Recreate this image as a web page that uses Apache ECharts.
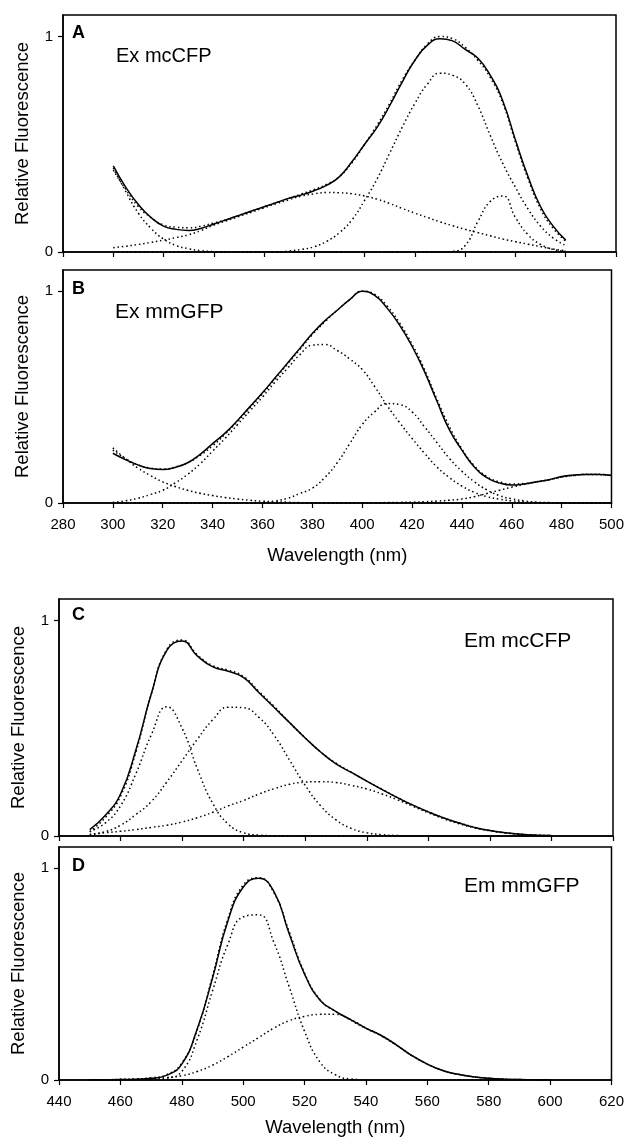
<!DOCTYPE html>
<html><head><meta charset="utf-8">
<script src="https://cdn.jsdelivr.net/npm/echarts@6/dist/echarts.min.js"></script>
<style>html,body{margin:0;padding:0;background:#fff}#c{width:627px;height:1138px}</style>
</head><body><div id="c"></div>
<script>
// ---------- Panel A: Ex mcCFP (300..480 nm, step 5) ----------
const xA = [300,305,310,315,320,325,330,335,340,345,350,355,360,365,370,375,380,385,390,395,400,405,410,415,420,425,430,435,440,445,450,455,460,465,470,475,480];
const fitA = [0.40,0.30,0.22,0.16,0.12,0.105,0.10,0.11,0.13,0.15,0.17,0.19,0.21,0.23,0.25,0.265,0.285,0.31,0.35,0.42,0.50,0.58,0.68,0.79,0.89,0.96,0.99,0.98,0.94,0.90,0.82,0.70,0.52,0.35,0.21,0.12,0.055];
const dataA = [0.38,0.29,0.21,0.16,0.125,0.115,0.112,0.12,0.135,0.15,0.17,0.19,0.21,0.23,0.25,0.27,0.29,0.315,0.35,0.415,0.50,0.59,0.69,0.80,0.89,0.965,1.0,0.99,0.95,0.89,0.81,0.69,0.51,0.34,0.20,0.11,0.05];
const decayA = [0.39,0.28,0.18,0.11,0.06,0.03,0.015,0.006,0.002,0,0,0,0,0,0,0,0,0,0,0,0,0,0,0,0,0,0,0,0,0,0,0,0,0,0,0,0];
const broadA = [0.02,0.027,0.035,0.045,0.055,0.067,0.08,0.10,0.125,0.145,0.165,0.185,0.205,0.225,0.243,0.26,0.27,0.276,0.275,0.27,0.26,0.245,0.225,0.202,0.18,0.16,0.14,0.122,0.105,0.09,0.075,0.06,0.048,0.036,0.025,0.014,0.005];
const mainA = [0,0,0,0,0,0,0,0,0,0,0,0,0,0,0.005,0.012,0.025,0.05,0.09,0.15,0.24,0.34,0.46,0.58,0.69,0.78,0.83,0.82,0.78,0.68,0.54,0.41,0.30,0.20,0.12,0.065,0.03];
const smallA = [0,0,0,0,0,0,0,0,0,0,0,0,0,0,0,0,0,0,0,0,0,0,0,0,0,0,0,0.003,0.03,0.14,0.235,0.26,0.16,0.08,0.035,0.012,0.003];

// ---------- Panel B: Ex mmGFP (300..500 nm, step 5) ----------
const xB = [300,305,310,315,320,325,330,335,340,345,350,355,360,365,370,375,380,385,390,395,400,405,410,415,420,425,430,435,440,445,450,455,460,465,470,475,480,485,490,495,500];
const fitB = [0.235,0.205,0.18,0.163,0.158,0.168,0.19,0.23,0.28,0.33,0.39,0.455,0.52,0.59,0.66,0.73,0.80,0.86,0.91,0.96,1.0,0.98,0.92,0.84,0.74,0.62,0.48,0.345,0.25,0.17,0.12,0.095,0.085,0.09,0.10,0.11,0.125,0.132,0.135,0.134,0.13];
const dataB = [0.25,0.21,0.18,0.165,0.16,0.17,0.19,0.225,0.27,0.325,0.385,0.45,0.515,0.585,0.655,0.725,0.795,0.855,0.91,0.96,1.0,0.985,0.93,0.85,0.75,0.63,0.49,0.36,0.255,0.175,0.125,0.10,0.09,0.092,0.10,0.11,0.123,0.13,0.136,0.136,0.128];
const decayB = [0.26,0.21,0.165,0.13,0.10,0.078,0.06,0.046,0.035,0.026,0.019,0.013,0.009,0.006,0.004,0.002,0.001,0,0,0,0,0,0,0,0,0,0,0,0,0,0,0,0,0,0,0,0,0,0,0,0];
const bigB = [0.003,0.01,0.022,0.04,0.06,0.095,0.135,0.185,0.245,0.305,0.37,0.435,0.50,0.57,0.635,0.70,0.745,0.748,0.72,0.68,0.63,0.55,0.46,0.38,0.305,0.235,0.17,0.12,0.08,0.05,0.03,0.018,0.01,0.005,0.002,0.001,0,0,0,0,0];
const midB = [0,0,0,0,0,0,0,0,0,0,0,0,0.003,0.01,0.022,0.045,0.07,0.12,0.19,0.28,0.37,0.43,0.47,0.465,0.43,0.36,0.285,0.21,0.15,0.10,0.062,0.035,0.02,0.01,0.004,0.002,0.001,0,0,0,0];
const tailB = [0,0,0,0,0,0,0,0,0,0,0,0,0,0,0,0,0,0,0,0,0.001,0.001,0.002,0.003,0.004,0.006,0.009,0.013,0.019,0.03,0.045,0.06,0.075,0.088,0.10,0.11,0.122,0.13,0.135,0.134,0.13];

// ---------- Panel C: Em mcCFP (450..600 nm, step 5) ----------
const xC = [450,455,460,465,470,475,480,485,490,495,500,505,510,515,520,525,530,535,540,545,550,555,560,565,570,575,580,585,590,595,600];
const fitC = [0.03,0.095,0.195,0.40,0.66,0.86,0.905,0.835,0.785,0.765,0.735,0.665,0.595,0.525,0.455,0.39,0.335,0.295,0.255,0.215,0.178,0.143,0.112,0.084,0.06,0.04,0.025,0.015,0.008,0.004,0.002];
const dataC = [0.02,0.085,0.185,0.39,0.66,0.865,0.91,0.84,0.79,0.77,0.74,0.67,0.60,0.525,0.455,0.39,0.338,0.295,0.255,0.217,0.178,0.143,0.112,0.084,0.061,0.041,0.025,0.015,0.008,0.004,0.002];
const comp1C = [0.02,0.06,0.14,0.29,0.47,0.60,0.50,0.31,0.15,0.055,0.015,0.004,0.001,0,0,0,0,0,0,0,0,0,0,0,0,0,0,0,0,0,0];
const comp2C = [0.005,0.02,0.05,0.10,0.16,0.25,0.35,0.45,0.54,0.598,0.595,0.55,0.465,0.35,0.235,0.14,0.075,0.035,0.015,0.006,0.002,0,0,0,0,0,0,0,0,0,0];
const broadC = [0.008,0.015,0.022,0.03,0.04,0.05,0.065,0.085,0.11,0.14,0.165,0.195,0.22,0.24,0.25,0.252,0.248,0.235,0.218,0.195,0.168,0.138,0.108,0.08,0.057,0.038,0.024,0.014,0.008,0.004,0.002];

// ---------- Panel D: Em mmGFP (450..600 nm, step 5) ----------
const xD = [450,455,460,465,470,475,480,485,490,495,500,505,510,515,520,525,530,535,540,545,550,555,560,565,570,575,580,585,590,595,600];
const fitD = [0,0.001,0.002,0.004,0.008,0.022,0.075,0.24,0.48,0.75,0.91,0.953,0.89,0.69,0.50,0.378,0.325,0.285,0.245,0.21,0.165,0.115,0.075,0.045,0.027,0.015,0.008,0.004,0.002,0.001,0];
const dataD = [0,0.001,0.002,0.004,0.01,0.025,0.08,0.235,0.49,0.76,0.92,0.955,0.885,0.70,0.505,0.38,0.325,0.283,0.243,0.208,0.163,0.115,0.075,0.045,0.027,0.015,0.008,0.004,0.002,0.001,0];
const comp1D = [0,0,0,0,0.002,0.008,0.04,0.19,0.42,0.64,0.77,0.78,0.65,0.44,0.23,0.085,0.025,0.005,0.001,0,0,0,0,0,0,0,0,0,0,0,0];
const broadD = [0,0.001,0.003,0.005,0.008,0.012,0.02,0.04,0.07,0.11,0.155,0.2,0.245,0.28,0.30,0.31,0.31,0.285,0.245,0.21,0.165,0.115,0.075,0.045,0.027,0.015,0.008,0.004,0.002,0.001,0];

// ---------- text ----------
const panelLetters = ['A','B','C','D'];
const sampleNames = ['Ex mcCFP','Ex mmGFP','Em mcCFP','Em mmGFP'];
const yName = 'Relative Fluorescence';
const xName = 'Wavelength (nm)';
const yTicks = [0, 1];

const FONT = 'Liberation Sans, Arial, Helvetica, sans-serif';
const zip = (xs, ys) => xs.map((x, i) => [x, ys[i]]);

const grids = [
  {left: 63, width: 553, top: 15, height: 237},
  {left: 63, width: 553, top: 270, height: 233},
  {left: 59, width: 554, top: 599, height: 237},
  {left: 59, width: 554, top: 847, height: 234}
];
const xRanges = [[280,500],[280,500],[440,620],[440,620]];
const showXLabels = [false, true, false, true];
const xNameGaps = [0, 43, 0, 38];

const chart = echarts.init(document.getElementById('c'), null, {renderer: 'canvas'});

const gridOpts = grids.map(g => Object.assign({show: true, borderColor: '#000', borderWidth: 1.5, backgroundColor: 'transparent', containLabel: false}, g));

const xAxes = grids.map((g, i) => ({
  type: 'value', gridIndex: i, min: xRanges[i][0], max: xRanges[i][1], interval: 20,
  axisLine: {show: true, onZero: false, lineStyle: {color: '#000', width: 1.5}},
  axisTick: {show: true, inside: false, length: 5, lineStyle: {color: '#000', width: 1.2}},
  axisLabel: {show: showXLabels[i], color: '#000', fontSize: 15, fontFamily: FONT, margin: 14},
  splitLine: {show: false},
  name: showXLabels[i] ? xName : '', nameLocation: 'middle', nameGap: xNameGaps[i],
  nameTextStyle: {color: '#000', fontSize: 18.5, fontFamily: FONT}
}));

const yAxes = grids.map((g, i) => ({
  type: 'value', gridIndex: i, min: 0, max: 1.1,
  axisLine: {show: true, onZero: false, lineStyle: {color: '#000', width: 1.5}},
  axisTick: {show: true, inside: false, length: 5, customValues: yTicks, lineStyle: {color: '#000', width: 1.2}},
  axisLabel: {show: true, color: '#000', fontSize: 15, fontFamily: FONT, margin: 10, customValues: yTicks,
    formatter: v => (v === 0 || v === 1) ? String(v) : ''},
  splitLine: {show: false},
  name: yName, nameLocation: 'middle', nameGap: 31,
  nameTextStyle: {color: '#000', fontSize: 18.5, fontFamily: FONT}
}));

const solid = (i, xs, ys) => ({type: 'line', xAxisIndex: i, yAxisIndex: i, data: zip(xs, ys), showSymbol: false, smooth: 0.5,
  lineStyle: {color: '#000', width: 1.5, type: 'solid'}, z: 3, silent: true});
const dotted = (i, xs, ys) => ({type: 'line', xAxisIndex: i, yAxisIndex: i, data: zip(xs, ys), showSymbol: false, smooth: 0.5,
  lineStyle: {color: '#000', width: 1.5, type: [1.5, 2.8]}, z: 2, silent: true});

const series = [
  solid(0, xA, fitA), dotted(0, xA, dataA), dotted(0, xA, decayA), dotted(0, xA, broadA), dotted(0, xA, mainA), dotted(0, xA, smallA),
  solid(1, xB, fitB), dotted(1, xB, dataB), dotted(1, xB, decayB), dotted(1, xB, bigB), dotted(1, xB, midB), dotted(1, xB, tailB),
  solid(2, xC, fitC), dotted(2, xC, dataC), dotted(2, xC, comp1C), dotted(2, xC, comp2C), dotted(2, xC, broadC),
  solid(3, xD, fitD), dotted(3, xD, dataD), dotted(3, xD, comp1D), dotted(3, xD, broadD)
];

const letterPos = [[72, 33], [72, 289], [72, 615], [72, 866]];
const namePos = [[116, 56], [115, 312], [464, 641], [464, 886]];
const nameSizes = [20, 21, 21, 21];
const graphics = [];
panelLetters.forEach((t, i) => graphics.push({type: 'text', x: letterPos[i][0], y: letterPos[i][1], z: 10,
  style: {text: t, font: 'bold 18px ' + FONT, fill: '#000', textVerticalAlign: 'middle', verticalAlign: 'middle'}}));
sampleNames.forEach((t, i) => graphics.push({type: 'text', x: namePos[i][0], y: namePos[i][1], z: 10,
  style: {text: t, font: nameSizes[i] + 'px ' + FONT, fill: '#000', textVerticalAlign: 'middle', verticalAlign: 'middle'}}));

chart.setOption({
  animation: false,
  backgroundColor: '#fff',
  grid: gridOpts,
  xAxis: xAxes,
  yAxis: yAxes,
  series: series,
  graphic: graphics
});
</script></body></html>
